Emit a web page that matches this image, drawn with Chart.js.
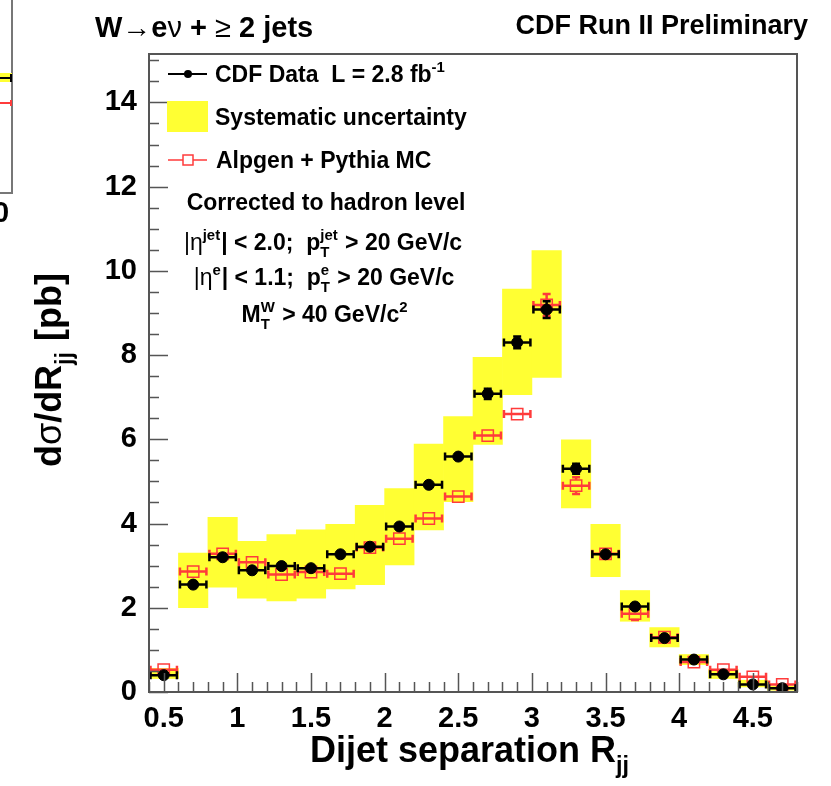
<!DOCTYPE html>
<html>
<head>
<meta charset="utf-8">
<script src="https://cdn.jsdelivr.net/npm/chart.js@4"></script>
<style>
  html, body { margin: 0; padding: 0; background: #fff; }
  canvas { display: block; }
</style>
</head>
<body>
<canvas id="c" width="831" height="786"></canvas>
<script>
// bin centres of the dijet separation histogram (bin width 0.2)
const binCenters = [0.5, 0.7, 0.9, 1.1, 1.3, 1.5, 1.7, 1.9, 2.1, 2.3, 2.5,
                    2.7, 2.9, 3.1, 3.3, 3.5, 3.7, 3.9, 4.1, 4.3, 4.5, 4.7];
const binWidth = 0.2;

// CDF data, d(sigma)/dRjj [pb]
const dataVals = [0.40, 2.55, 3.20, 2.89, 2.99, 2.94, 3.27, 3.45, 3.93, 4.92, 5.59,
                  7.08, 8.30, 9.08, 5.30, 3.27, 2.03, 1.28, 0.77, 0.42, 0.18, 0.09];
const dataErr  = [0.04, 0.08, 0.08, 0.07, 0.07, 0.07, 0.08, 0.08, 0.09, 0.10, 0.10,
                  0.12, 0.14, 0.20, 0.12, 0.09, 0.07, 0.05, 0.04, 0.03, 0.02, 0.02];

// systematic band, low / high edge
const sysLo = [0.32, 2.00, 2.49, 2.23, 2.16, 2.23, 2.45, 2.55, 3.02, 3.85, 4.52,
               5.88, 7.06, 7.47, 4.37, 2.74, 1.68, 1.07, 0.65, 0.32, 0.12, 0.04];
const sysHi = [0.56, 3.30, 4.15, 3.58, 3.74, 3.85, 3.98, 4.43, 4.83, 5.89, 6.54,
               7.95, 9.57, 10.48, 5.99, 3.98, 2.41, 1.53, 0.89, 0.54, 0.28, 0.14];

// Alpgen + Pythia MC
const mcVals = [0.53, 2.86, 3.28, 3.08, 2.79, 2.85, 2.81, 3.43, 3.64, 4.12, 4.64,
                6.09, 6.60, 9.19, 4.90, 3.28, 1.86, 1.30, 0.71, 0.53, 0.36, 0.18];
const mcErr  = [0.05, 0.08, 0.08, 0.08, 0.08, 0.08, 0.08, 0.08, 0.09, 0.10, 0.10,
                0.12, 0.14, 0.26, 0.20, 0.12, 0.15, 0.08, 0.06, 0.05, 0.04, 0.03];

const FONT = '"Liberation Sans", Arial, Helvetica, sans-serif';
const RED = '#ff3b3b';
const YELLOW = '#ffff33';

function font(size, bold) {
    return (bold ? 'bold ' : '') + size + 'px ' + FONT;
}

// text with sub/superscripts, parts = [{t}, {sup, sub}]
function partWidth(ctx, p, size) {
    if (p.t !== undefined) {
        ctx.font = font(size, !p.reg);
        return ctx.measureText(p.t).width;
    }
    ctx.font = font(size * 0.65, true);
    let w = 0;
    if (p.sup) w = Math.max(w, ctx.measureText(p.sup).width);
    if (p.sub) w = Math.max(w, ctx.measureText(p.sub).width);
    return w + 1;
}

function drawRich(ctx, parts, x, y, size, align) {
    const total = parts.reduce((a, p) => a + partWidth(ctx, p, size), 0);
    let cx = align === 'center' ? x - total / 2 : align === 'right' ? x - total : x;
    ctx.textAlign = 'left';
    ctx.textBaseline = 'alphabetic';
    ctx.fillStyle = '#000';
    parts.forEach(p => {
        const w = partWidth(ctx, p, size);
        if (p.t !== undefined) {
            ctx.font = font(size, !p.reg);
            ctx.fillText(p.t, cx, y);
        } else {
            ctx.font = font(size * 0.65, true);
            if (p.sup) ctx.fillText(p.sup, cx, y - size * 0.43);
            if (p.sub) ctx.fillText(p.sub, cx, y + size * 0.3);
        }
        cx += w;
    });
}

// ROOT style error bars: full bin width horizontally, vertical part only outside the marker
function drawErrors(chart, ys, errs, color, gap) {
    const ctx = chart.ctx, sx = chart.scales.x, sy = chart.scales.y;
    const area = chart.chartArea;
    ctx.save();
    ctx.beginPath();
    ctx.rect(area.left, area.top, area.right - area.left, area.bottom - area.top);
    ctx.clip();
    ctx.strokeStyle = color;
    ctx.lineWidth = 2.5;
    binCenters.forEach((x, i) => {
        const px = sx.getPixelForValue(x), py = sy.getPixelForValue(ys[i]);
        const x0 = sx.getPixelForValue(x - binWidth / 2) + 1.5;
        const x1 = sx.getPixelForValue(x + binWidth / 2) - 1.5;
        const pt = sy.getPixelForValue(ys[i] + errs[i]);
        const pb = sy.getPixelForValue(ys[i] - errs[i]);
        ctx.beginPath();
        ctx.moveTo(x0, py); ctx.lineTo(x1, py);
        ctx.moveTo(x0, py - 4); ctx.lineTo(x0, py + 4);
        ctx.moveTo(x1, py - 4); ctx.lineTo(x1, py + 4);
        if (py - pt > gap) {
            ctx.moveTo(px, py - gap); ctx.lineTo(px, pt);
            ctx.moveTo(px - 4, pt); ctx.lineTo(px + 4, pt);
            ctx.moveTo(px, py + gap); ctx.lineTo(px, pb);
            ctx.moveTo(px - 4, pb); ctx.lineTo(px + 4, pb);
        }
        ctx.stroke();
    });
    ctx.restore();
}

const rootStyle = {
    id: 'rootStyle',
    beforeDatasetDraw(chart, args) {
        if (args.index === 0) drawErrors(chart, dataVals, dataErr, '#000', 5);
        if (args.index === 1) drawErrors(chart, mcVals, mcErr, RED, 6);
    },
    afterDraw(chart) {
        const ctx = chart.ctx, sx = chart.scales.x, sy = chart.scales.y;
        const a = chart.chartArea;

        // inward ticks + frame
        ctx.save();
        ctx.strokeStyle = '#555';
        ctx.lineWidth = 1.5;
        ctx.beginPath();
        for (let k = 0; k <= 44; k++) {
            const v = 0.4 + k * 0.1;
            const px = Math.round(sx.getPixelForValue(v)) + 0.5;
            const major = Math.abs(v * 2 - Math.round(v * 2)) < 1e-6;
            ctx.moveTo(px, a.bottom);
            ctx.lineTo(px, a.bottom - (major ? 19 : 10));
        }
        for (let k = 0; k <= 30; k++) {
            const v = k * 0.5;
            const py = Math.round(sy.getPixelForValue(v)) + 0.5;
            ctx.moveTo(a.left, py);
            ctx.lineTo(a.left + (k % 4 === 0 ? 19 : 10), py);
        }
        ctx.stroke();
        ctx.lineWidth = 2;
        ctx.strokeRect(a.left, a.top, a.right - a.left, a.bottom - a.top);
        ctx.restore();

        // legend
        ctx.save();
        ctx.strokeStyle = '#000';
        ctx.lineWidth = 2;
        ctx.beginPath(); ctx.moveTo(168, 74); ctx.lineTo(207, 74); ctx.stroke();
        ctx.fillStyle = '#000';
        ctx.beginPath(); ctx.arc(188, 74, 4, 0, Math.PI * 2); ctx.fill();
        drawRich(ctx, [{t: 'CDF Data  L = 2.8 fb'}, {sup: '-1'}], 215, 82, 23);

        ctx.fillStyle = YELLOW;
        ctx.fillRect(167, 101, 41, 31);
        drawRich(ctx, [{t: 'Systematic uncertainty'}], 215, 125, 23);

        ctx.strokeStyle = RED;
        ctx.lineWidth = 1.5;
        ctx.beginPath(); ctx.moveTo(168, 160); ctx.lineTo(183, 160);
        ctx.moveTo(193, 160); ctx.lineTo(207, 160); ctx.stroke();
        ctx.strokeRect(183, 155, 10, 10);
        drawRich(ctx, [{t: 'Alpgen + Pythia MC'}], 216, 168, 23);

        drawRich(ctx, [{t: 'Corrected to hadron level'}], 326, 210, 23, 'center');
        drawRich(ctx, [{t: '|', reg: true}, {t: 'η', reg: true}, {sup: 'jet'}, {t: '| < 2.0;  p'},
                       {sup: 'jet', sub: 'T'}, {t: ' > 20 GeV/c'}], 323, 250, 23, 'center');
        drawRich(ctx, [{t: '|', reg: true}, {t: 'η', reg: true}, {sup: 'e'}, {t: '| < 1.1;  p'},
                       {sup: 'e', sub: 'T'}, {t: ' > 20 GeV/c'}], 324, 285, 23, 'center');
        drawRich(ctx, [{t: 'M'}, {sup: 'W', sub: 'T'}, {t: ' > 40 GeV/c'}, {sup: '2'}], 325, 322, 23, 'center');

        // titles
        drawRich(ctx, [{t: 'W'}, {t: '→', reg: true}, {t: 'e'}, {t: 'ν', reg: true},
                       {t: ' + '}, {t: '≥', reg: true}, {t: ' 2 jets'}], 95, 37, 29);
        drawRich(ctx, [{t: 'CDF Run II Preliminary'}], 808, 34, 27, 'right');
        drawRich(ctx, [{t: 'Dijet separation R'}, {sub: 'jj'}], 310, 762, 36);

        ctx.translate(61, 370);
        ctx.rotate(-Math.PI / 2);
        drawRich(ctx, [{t: 'd'}, {t: 'σ', reg: true}, {t: '/dR'}, {sub: 'jj'}, {t: ' [pb]'}], 0, 0, 36, 'center');
        ctx.restore();

        // edge of the neighbouring panel
        ctx.save();
        ctx.strokeStyle = '#777';
        ctx.lineWidth = 2;
        ctx.beginPath(); ctx.moveTo(12, 0); ctx.lineTo(12, 193); ctx.lineTo(0, 193); ctx.stroke();
        ctx.fillStyle = YELLOW;
        ctx.fillRect(0, 73, 12, 9);
        ctx.strokeStyle = '#000';
        ctx.beginPath(); ctx.moveTo(0, 78); ctx.lineTo(11, 78); ctx.moveTo(11, 74); ctx.lineTo(11, 82); ctx.stroke();
        ctx.strokeStyle = RED;
        ctx.beginPath(); ctx.moveTo(0, 103); ctx.lineTo(11, 103); ctx.moveTo(11, 100); ctx.lineTo(11, 106); ctx.stroke();
        ctx.fillStyle = '#000';
        ctx.font = font(29, true);
        ctx.textAlign = 'left';
        ctx.textBaseline = 'alphabetic';
        ctx.fillText('0', -7, 222);
        ctx.restore();
    }
};

const tickFont = { family: FONT, size: 29, weight: 'bold' };

new Chart(document.getElementById('c'), {
    type: 'bar',
    data: {
        datasets: [
            {
                type: 'scatter',
                label: 'CDF Data',
                data: binCenters.map((x, i) => ({ x: x, y: dataVals[i] })),
                pointRadius: 5.5,
                pointBackgroundColor: '#000',
                pointBorderColor: '#000',
                pointBorderWidth: 1,
                order: 0
            },
            {
                type: 'scatter',
                label: 'Alpgen + Pythia MC',
                data: binCenters.map((x, i) => ({ x: x, y: mcVals[i] })),
                pointStyle: 'rect',
                pointRadius: 8,
                pointBackgroundColor: 'rgba(0,0,0,0)',
                pointBorderColor: RED,
                pointBorderWidth: 1.5,
                order: 1
            },
            {
                type: 'bar',
                label: 'Systematic uncertainty',
                data: binCenters.map((x, i) => ({ x: x, y: [sysLo[i], sysHi[i]] })),
                backgroundColor: YELLOW,
                borderWidth: 0,
                barPercentage: 1,
                categoryPercentage: 1,
                grouped: false,
                order: 2
            }
        ]
    },
    options: {
        responsive: false,
        animation: false,
        events: [],
        layout: { padding: { left: 0, top: 54, right: 34, bottom: 0 } },
        plugins: { legend: { display: false }, tooltip: { enabled: false } },
        scales: {
            x: {
                type: 'linear', min: 0.4, max: 4.8, offset: false,
                grid: { display: false, offset: false },
                border: { display: false },
                ticks: {
                    stepSize: 0.5, includeBounds: false, autoSkip: false, maxRotation: 0,
                    padding: 2, color: '#000', font: tickFont,
                    callback: v => String(Math.round(v * 10) / 10)
                },
                afterFit: s => { s.height = 94; }
            },
            y: {
                type: 'linear', min: 0, max: 15.15,
                grid: { display: false },
                border: { display: false },
                ticks: {
                    stepSize: 2, includeBounds: false, padding: 4, color: '#000', font: tickFont,
                    callback: v => String(v)
                },
                afterFit: s => { s.width = 149; }
            }
        }
    },
    plugins: [rootStyle]
});
</script>
</body>
</html>
